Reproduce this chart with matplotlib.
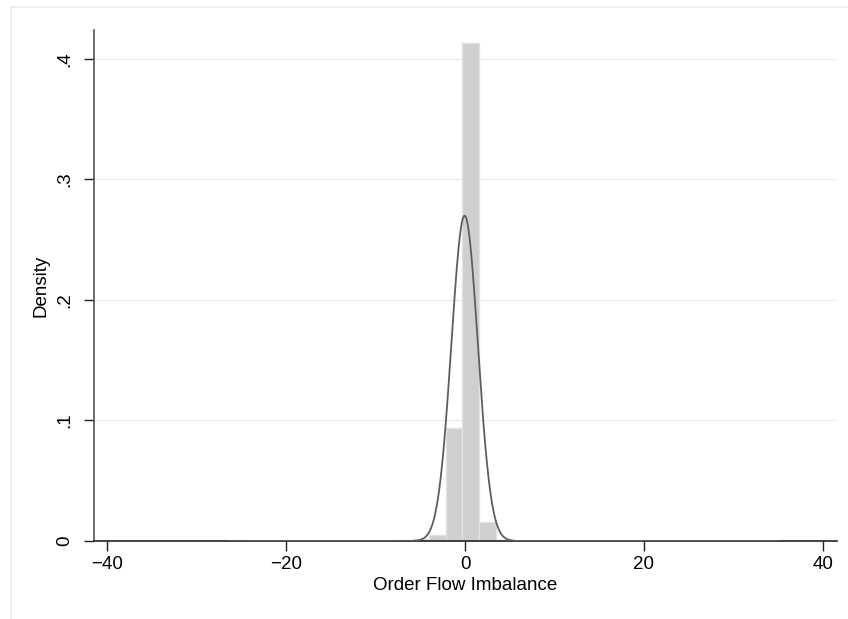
import numpy as np
import matplotlib
matplotlib.use("Agg")
import matplotlib.pyplot as plt
from matplotlib.patches import Rectangle

# Histogram of order flow imbalance: 33 equal-width bins from -26.3 to 35.0
bin_start = -26.3
bin_end = 35.0
densities = [
    0.0006, 0.0004, 0.0002, 0.0002, 0.0001, 0.0002, 0.0002, 0.0002,
    0.0002, 0.0003, 0.0005, 0.0018, 0.0052, 0.0940, 0.4130, 0.0160,
    0.0010, 0.0003, 0.0002, 0.0002, 0.0002, 0.0001, 0.0001, 0.0001,
    0.0001, 0.0001, 0.0002, 0.0004, 0.0003, 0.0002, 0.0003, 0.0004, 0.0003,
]

# Overlaid normal density
norm_mean = -0.05
norm_sd = 1.478

x_ticks = [-40, -20, 0, 20, 40]
x_ticklabels = ["\u221240", "\u221220", "0", "20", "40"]
y_ticks = [0, 0.1, 0.2, 0.3, 0.4]
y_ticklabels = ["0", ".1", ".2", ".3", ".4"]

plt.rcParams["font.family"] = ["Liberation Sans", "DejaVu Sans"]

W, H = 848, 619
fig = plt.figure(figsize=(W / 100, H / 100), dpi=100)
fig.patch.set_facecolor("white")

# faint outer frame of the graph region
fig.patches.append(Rectangle((11 / W, -0.05), 1.1, 1.05 - 7 / H,
                             transform=fig.transFigure, fill=False,
                             edgecolor="#ececec", linewidth=1.2, zorder=0))

ax = fig.add_axes([94 / W, 1 - 541 / H, (837 - 94) / W, (541 - 30) / H])
ax.set_facecolor("white")

n_bins = len(densities)
edges = np.linspace(bin_start, bin_end, n_bins + 1)
widths = np.diff(edges)
ax.bar(edges[:-1], densities, width=widths, align="edge",
       color="#cfcfcf", edgecolor="#e2e2e2", linewidth=1.0, zorder=2)

xs = np.linspace(-26.3, 35.0, 2000)
ys = np.exp(-0.5 * ((xs - norm_mean) / norm_sd) ** 2) / (norm_sd * np.sqrt(2 * np.pi))
ax.plot(xs, ys, color="#5e5e5e", linewidth=1.3, zorder=3)

ax.set_xlim(-41.5, 41.6)
ax.set_ylim(0, 0.424)

for yv in y_ticks[1:]:
    ax.axhline(yv, color="#eeeeee", linewidth=1.0, zorder=1)

ax.set_xticks(x_ticks)
ax.set_xticklabels(x_ticklabels)
ax.set_yticks(y_ticks)
ax.set_yticklabels(y_ticklabels, rotation=90, va="center")

ax.tick_params(axis="both", labelsize=13.5, length=7, width=1.0, colors="#222222",
               labelcolor="black")
ax.tick_params(axis="x", pad=4)
ax.tick_params(axis="y", pad=8)

for side in ["top", "right"]:
    ax.spines[side].set_visible(False)
ax.spines["left"].set_color("#555555")
ax.spines["left"].set_linewidth(1.2)
ax.spines["bottom"].set_color("#222222")
ax.spines["bottom"].set_linewidth(1.2)

ax.set_xlabel("Order Flow Imbalance", fontsize=13.5, labelpad=3)
ax.set_ylabel("Density", fontsize=13.5, labelpad=5)

fig.savefig("out.png", dpi=100, facecolor="white")
